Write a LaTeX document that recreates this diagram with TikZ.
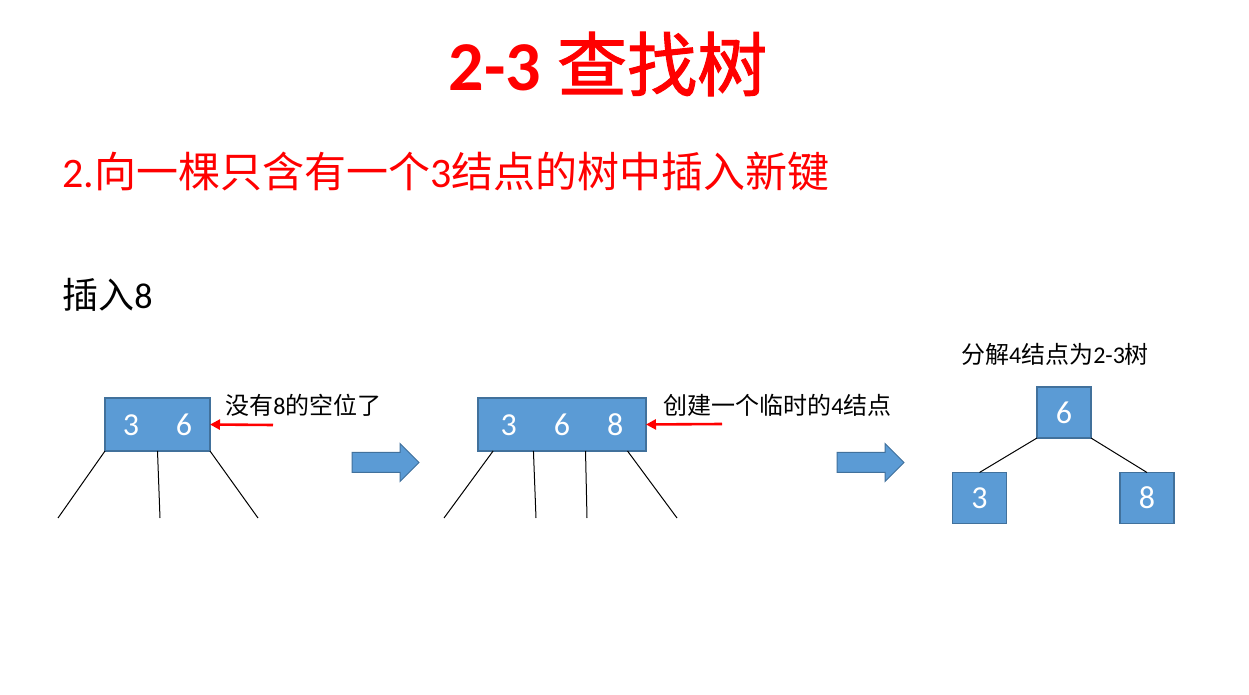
\documentclass[tikz,border=0pt]{standalone}
\usepackage{fontspec}
\setmainfont{Carlito}
\newfontfamily\cjk{Noto Sans CJK SC}
\newfontfamily\cjkmid[RawFeature={embolden=1.5}]{Noto Sans CJK SC}
\usetikzlibrary{arrows.meta,shapes.arrows,calc}
\definecolor{Key}{HTML}{5B9BD5}
\definecolor{KeyLine}{HTML}{41719C}
\definecolor{Alert}{HTML}{FF0000}

\begin{document}
\begin{tikzpicture}[x=0.5pt,y=-0.5pt,keybox/.style={rectangle,draw=KeyLine,fill=Key,line width=0.6pt,outer sep=0pt,inner sep=0pt,text=white,font=\fontsize{16}{18}\selectfont,minimum height=26.5pt},link/.style={draw=black,line width=0.5pt},pointer/.style={draw=Alert,line width=1.3pt,-{Triangle[length=5pt,width=5pt]}},bigarrow/.style={single arrow,draw=KeyLine,fill=Key,line width=0.5pt,minimum height=33.5pt,inner sep=4.75pt,single arrow head extend=4.5pt},note/.style={inner sep=0pt,font=\fontsize{12}{14}\selectfont}]
\fill[white] (0,0) rectangle (1249,695);
\useasboundingbox (0,0) rectangle (1249,695);
\node[inner sep=0pt,text=Alert,font=\fontsize{35}{40}\selectfont\bfseries] (title) at (608,64) {2-3 {\cjkmid\mdseries 查找树}};
\node[inner sep=0pt,anchor=west,text=Alert,font=\fontsize{21}{24}\selectfont] (sub) at (62,172) {2.{\cjk 向一棵只含有一个}3{\cjk 结点的树中插入新键}};
\node[inner sep=0pt,anchor=west,font=\fontsize{18}{20}\selectfont] (step) at (62,295) {{\cjk 插入}8};
\node[keybox,minimum width=52.5pt] (old) at (157.5,424.5) {3\hspace{18.5pt}6};
\node[note,anchor=west] (full) at (225,405) {{\cjk 没有}8{\cjk 的空位了}};
\coordinate (in1) at (273,425);
\coordinate (o1) at (58,518);
\coordinate (o2) at (160,518);
\coordinate (o3) at (258,518);
\draw[pointer] (in1)--(old.east);
\draw[link] (old.south west)--(o1);
\draw[link] (old.south)--(o2);
\draw[link] (old.south east)--(o3);
\node[bigarrow] (go1) at (380.5,462.5) {};
\node[keybox,minimum width=84pt] (temp) at (562,424.5) {3\hspace{18.5pt}6\hspace{18.5pt}8};
\node[note,anchor=west] (make) at (663,405) {{\cjk 创建一个临时的}4{\cjk 结点}};
\coordinate (in2) at (722,424);
\coordinate (t1) at (444,518);
\coordinate (t2) at (536,518);
\coordinate (t3) at (587,518);
\coordinate (t4) at (677,518);
\draw[pointer] (in2)--(temp.east);
\draw[link] ($(temp.south west)!0.09!(temp.south east)$)--(t1);
\draw[link] ($(temp.south west)!0.33!(temp.south east)$)--(t2);
\draw[link] ($(temp.south west)!0.64!(temp.south east)$)--(t3);
\draw[link] ($(temp.south west)!0.89!(temp.south east)$)--(t4);
\node[bigarrow] (go2) at (865.5,462.5) {};
\node[note] (split) at (1055,354) {{\cjk 分解}4{\cjk 结点为}2-3{\cjk 树}};
\node[keybox,minimum width=27pt,minimum height=25.5pt] (root) at (1064,412.5) {6};
\node[keybox,minimum width=27pt,minimum height=25.5pt] (left) at (979.5,498) {3};
\node[keybox,minimum width=27pt,minimum height=25.5pt] (right) at (1147,498) {8};
\draw[link] (root.south west)--(left.north);
\draw[link] (root.south east)--(right.north);
\end{tikzpicture}
\end{document}
